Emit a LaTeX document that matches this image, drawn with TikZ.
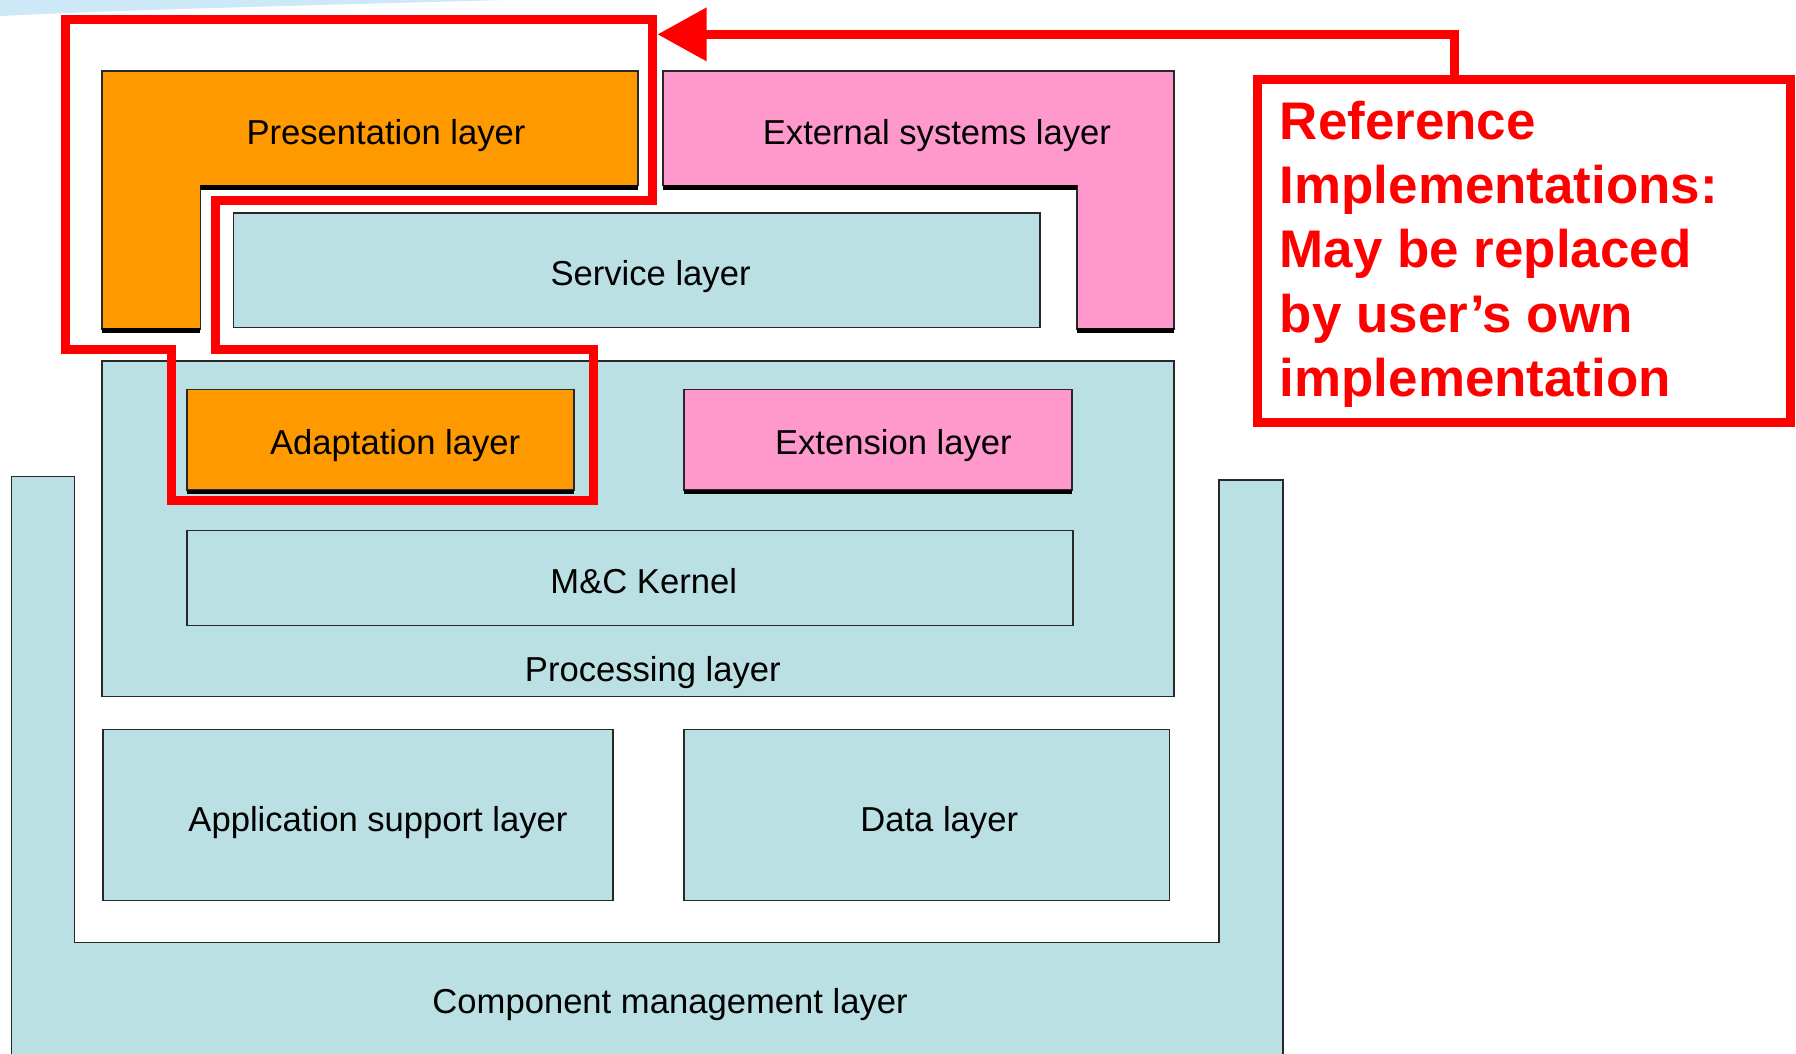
\documentclass[tikz,border=0pt]{standalone}
\usepackage{fontspec}
\setmainfont{Liberation Sans}
\usetikzlibrary{arrows.meta}
\definecolor{lblue}{RGB}{187,224,227}
\definecolor{lorange}{RGB}{255,153,0}
\definecolor{lpink}{RGB}{255,153,204}
\definecolor{edgegray}{RGB}{40,40,40}
\definecolor{swoosh}{RGB}{205,232,246}
\begin{document}
\begin{tikzpicture}[x=0.02cm,y=-0.02cm,
  layer/.style={draw=edgegray, line width=0.8pt},
  bluebox/.style={layer, fill=lblue},
  orangebox/.style={layer, fill=lorange},
  pinkbox/.style={layer, fill=lpink},
  lbl/.style={font=\fontsize{17.2}{20}\selectfont, inner sep=0pt, anchor=base},
  shadowline/.style={line width=2.4pt, black},
  redline/.style={draw=red, line width=4.5pt, line join=miter}]
\useasboundingbox (0,0) rectangle (1568,920);
% faint background swoosh
\fill[swoosh] (0,0) -- (440,0) .. controls (300,4) and (120,8) .. (0,14) -- cycle;

% Component management layer (U shape)
\fill[lblue] (10,920) -- (10,416) -- (65,416) -- (65,823) -- (1064,823) -- (1064,419) -- (1120,419) -- (1120,920) -- cycle;
\draw[layer] (10,920) -- (10,416) -- (65,416) -- (65,823) -- (1064,823) -- (1064,419) -- (1120,419) -- (1120,920);
\node[lbl] (cml) at (585,885) {Component management layer};

% Presentation layer (L shape)
\draw[orangebox] (89,62) -- (557,62) -- (557,162) -- (175,162) -- (175,287) -- (89,287) -- cycle;
\draw[shadowline] (175,163.5) -- (557,163.5);
\draw[shadowline] (89,288.5) -- (175,288.5);
\node[lbl] (pres) at (337,126) {Presentation layer};

% External systems layer (reversed L)
\draw[pinkbox] (579,62) -- (1025,62) -- (1025,287) -- (940,287) -- (940,162) -- (579,162) -- cycle;
\draw[shadowline] (579,163.5) -- (940,163.5);
\draw[shadowline] (940,288.5) -- (1025,288.5);
\node[lbl] (ext) at (818,126) {External systems layer};

% Service layer
\draw[bluebox] (204,186) rectangle (908,286);
\node[lbl] (serv) at (568,249) {Service layer};

% Processing layer
\draw[bluebox] (89,315) rectangle (1025,608);
\node[lbl] (proc) at (570,595) {Processing layer};

% Adaptation layer
\draw[orangebox] (163,340) rectangle (501,428);
\draw[shadowline] (163,429.5) -- (501,429.5);
\node[lbl] (adapt) at (345,397) {Adaptation layer};

% Extension layer
\draw[pinkbox] (597,340) rectangle (936,428);
\draw[shadowline] (597,429.5) -- (936,429.5);
\node[lbl] (extn) at (780,397) {Extension layer};

% M&C Kernel
\draw[bluebox] (163,463) rectangle (937,546);
\node[lbl] (kern) at (562,518) {M\&C Kernel};

% Application support layer
\draw[bluebox] (90,637) rectangle (535,786);
\node[lbl] (app) at (330,726) {Application support layer};

% Data layer
\draw[bluebox] (597,637) rectangle (1021,786);
\node[lbl] (data) at (820,726) {Data layer};

% Red highlight outline
\draw[redline] (57,17) -- (570,17) -- (570,175) -- (188,175) -- (188,305) -- (518,305) -- (518,437) -- (150,437) -- (150,305) -- (57,305) -- cycle;
\coordinate (hl) at (574,30);

% Reference implementations box
\node[draw=red, line width=4.5pt, minimum width=465*0.02cm, minimum height=300*0.02cm, inner sep=0pt] (refbox) at (1330.5,219) {};
\node[anchor=north west, inner sep=0pt, align=left, text=red,
      font=\fontsize{26.3}{31.9}\selectfont\bfseries] (reftext) at (1117,88)
  {Reference\\Implementations:\\May be replaced\\by user’s own\\implementation};

\coordinate (bend) at (1270,30);
\draw[draw=red, line width=4.5pt, -{Triangle[length=0.86cm,width=0.9cm]}]
  (refbox.north -| bend) -- (bend) -- (hl);
\end{tikzpicture}
\end{document}
